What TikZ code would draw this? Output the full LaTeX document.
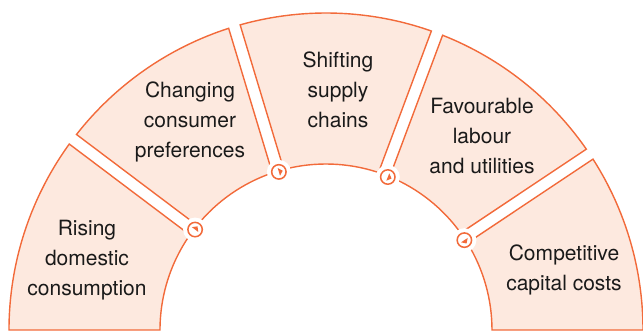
\documentclass[tikz,border=0pt]{standalone}
\usepackage{fontspec}
\setmainfont{TeX Gyre Heros}
\definecolor{segfill}{HTML}{FDE9DF}
\definecolor{segline}{HTML}{F26A3A}
\definecolor{txt}{HTML}{1A1A1A}
\newcommand\mysector[4]{%
  \draw[seg] ({#1+asin(#3/317)}:317pt) arc[start angle={#1+asin(#3/317)}, end angle={#2-asin(#4/317)}, radius=317pt]
    -- ({#2-asin(#4/166)}:166pt) arc[start angle={#2-asin(#4/166)}, end angle={#1+asin(#3/166)}, radius=166pt] -- cycle;}
\newcommand\mymarker[2]{%
  \fill[white] (#2:165pt) circle[radius=12pt];
  \draw[segline, line width=1.5pt] (#2:165pt) circle[radius=7.2pt];
  \node[inner sep=0pt, minimum size=0pt] (#1) at (#2:165pt) {};
  \fill[segline] ([shift={(#2-90:4pt)}]#1.center) -- ([shift={(#2:4pt)}]#1.center) -- ([shift={(#2+180:4pt)}]#1.center) -- cycle;}
\begin{document}
\begin{tikzpicture}[x=1pt,y=1pt,
  seg/.style={fill=segfill, draw=segline, line width=1.4pt, line join=miter},
  lbl/.style={align=center, text=txt, font=\fontsize{21}{30}\selectfont, inner sep=0pt}]
\useasboundingbox (-326,-2) rectangle (317,330);
\mysector{0}{33.7}{0}{6}
\mysector{33.7}{69.5}{6}{6}
\mysector{69.5}{106.8}{6}{6}
\mysector{106.8}{143}{6}{6}
\mysector{143}{180}{6}{0}
\mymarker{m1}{142.5}
\mymarker{m2}{106.6}
\mymarker{m3}{68}
\mymarker{m4}{33}
\node[lbl] (t1) at (-239,70) {Rising\\domestic\\consumption};
\node[lbl] (t2) at (-136,208) {Changing\\consumer\\preferences};
\node[lbl] (t3) at (12,240.5) {Shifting\\supply\\chains};
\node[lbl] (t4) at (156,194) {Favourable\\labour\\and utilities};
\node[lbl] (t5) at (238,60) {Competitive\\capital costs};
\end{tikzpicture}
\end{document}
